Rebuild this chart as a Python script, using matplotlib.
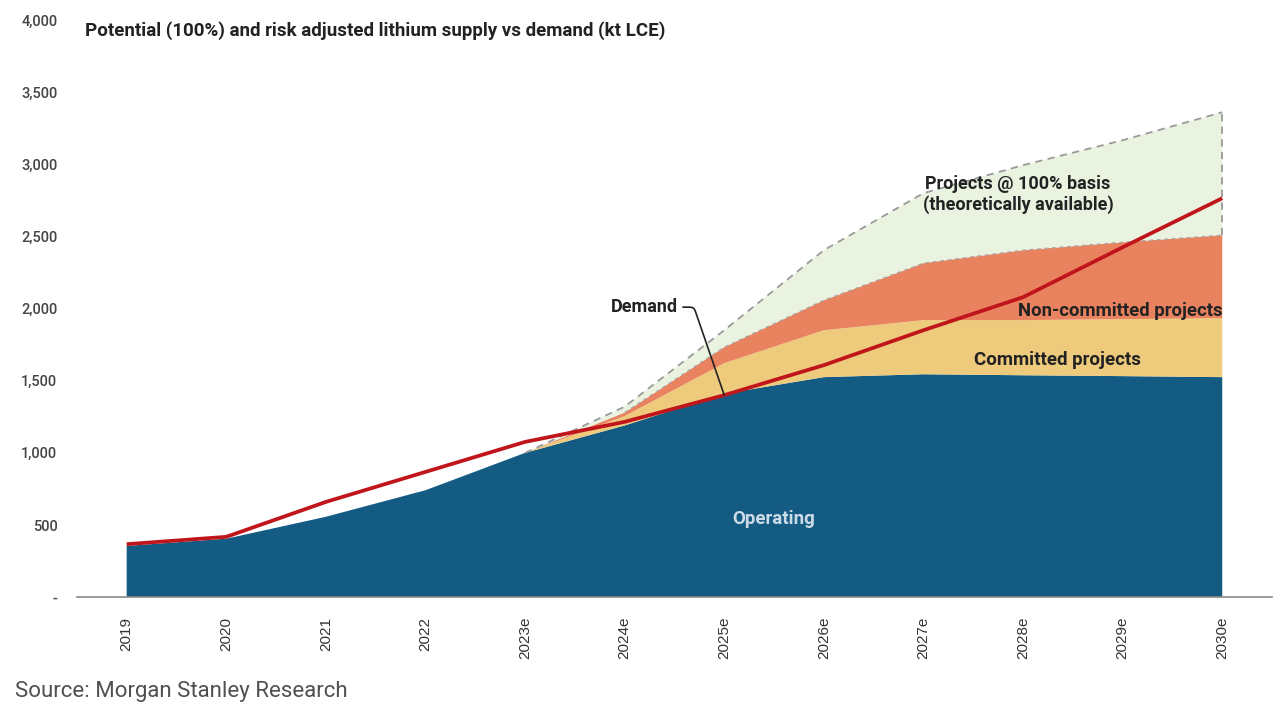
import numpy as np
import matplotlib
matplotlib.use("Agg")
import matplotlib.pyplot as plt
from matplotlib.ticker import FuncFormatter

# data (kt LCE)
years = ["2019", "2020", "2021", "2022", "2023e", "2024e", "2025e",
         "2026e", "2027e", "2028e", "2029e", "2030e"]
operating = [355, 405, 557, 741, 1000, 1190, 1410, 1525, 1545, 1538, 1532, 1525]
committed = [0, 0, 0, 0, 0, 65, 212, 325, 375, 382, 395, 408]
non_committed = [0, 0, 0, 0, 0, 25, 111, 208, 395, 485, 533, 576]
projects_100 = [0, 0, 0, 0, 0, 40, 117, 347, 485, 589, 707, 852]
demand = [367, 418, 660, 868, 1076, 1215, 1400, 1608, 1850, 2079, 2425, 2765]

c_op = "#135b83"
c_com = "#eecb7c"
c_nc = "#e8825f"
c_pr = "#e9f3e0"
c_dem = "#c0161b"

font = "Roboto"

fig = plt.figure(figsize=(12.81, 7.16), dpi=100)
ax = fig.add_axes([0.060, 0.166, 0.933, 0.806])

x = np.arange(len(years))
ax.stackplot(x, operating, committed, non_committed, projects_100,
             colors=[c_op, c_com, c_nc, c_pr], linewidth=0)

# dashed borders of the risked / 100% supply
tot_nc = np.array(operating) + np.array(committed) + np.array(non_committed)
tot_100 = tot_nc + np.array(projects_100)
ax.plot(x[4:], tot_100[4:], color="#9a9a9a", lw=1.3, ls=(0, (4, 3)))
ax.plot(x[5:], tot_nc[5:], color="#a8a8a8", lw=0.9, ls=(0, (3, 3)))
ax.plot([x[-1], x[-1]], [tot_nc[-1], tot_100[-1]], color="#9a9a9a", lw=1.3, ls=(0, (4, 3)))

ax.plot(x, demand, color=c_dem, lw=2.7, solid_capstyle="butt")

# labels on the chart
ax.annotate("Demand", xy=(6, demand[6]), xytext=(5.53, 2010),
            ha="right", va="center", fontsize=13, fontweight="bold",
            family=font, color="#222222",
            arrowprops=dict(arrowstyle="-", color="#222222", lw=1.2,
                            shrinkA=2, shrinkB=0,
                            connectionstyle="angle,angleA=0,angleB=109,rad=4"))
ax.text(8.95, 2790, "Projects @ 100% basis\n(theoretically available)",
        ha="center", va="center", fontsize=13, fontweight="bold",
        family=font, color="#222222", linespacing=1.2)
ax.text(11.0, 1985, "Non-committed projects", ha="right", va="center",
        fontsize=13.3, fontweight="bold", family=font, color="#222222")
ax.text(9.35, 1645, "Committed projects", ha="center", va="center",
        fontsize=13.5, fontweight="bold", family=font, color="#222222")
ax.text(6.5, 540, "Operating", ha="center", va="center",
        fontsize=13.5, fontweight="bold", family=font, color="#cddbe7")

ax.set_xlim(-0.5, 11.5)
ax.set_ylim(0, 4000)
ax.set_yticks(np.arange(0, 4001, 500))
ax.yaxis.set_major_formatter(FuncFormatter(lambda v, p: "-" if v == 0 else f"{v:,.0f}"))
ax.set_xticks(x)
ax.set_xticklabels(years, rotation=90, fontsize=11, family="Liberation Sans", color="#333333")
for lab in ax.get_yticklabels():
    lab.set_family(font)
    lab.set_fontsize(10.5)
    lab.set_fontweight("medium")
    lab.set_color("#444444")
ax.tick_params(axis="both", length=0)
ax.tick_params(axis="x", pad=14)
ax.tick_params(axis="y", pad=14)

for s in ["top", "right", "left"]:
    ax.spines[s].set_visible(False)
ax.spines["bottom"].set_color("#8a8a8a")
ax.spines["bottom"].set_linewidth(1.2)

fig.text(85 / 1281, 1 - 31 / 716,
         "Potential (100%) and risk adjusted lithium supply vs demand (kt LCE)",
         ha="left", va="center", fontsize=13.5, fontweight="bold", family=font, color="#222222")
fig.text(15 / 1281, 1 - 691 / 716, "Source: Morgan Stanley Research",
         ha="left", va="center", fontsize=16, fontweight="normal", family=font, color="#505050")

fig.savefig("out.png", dpi=100)
